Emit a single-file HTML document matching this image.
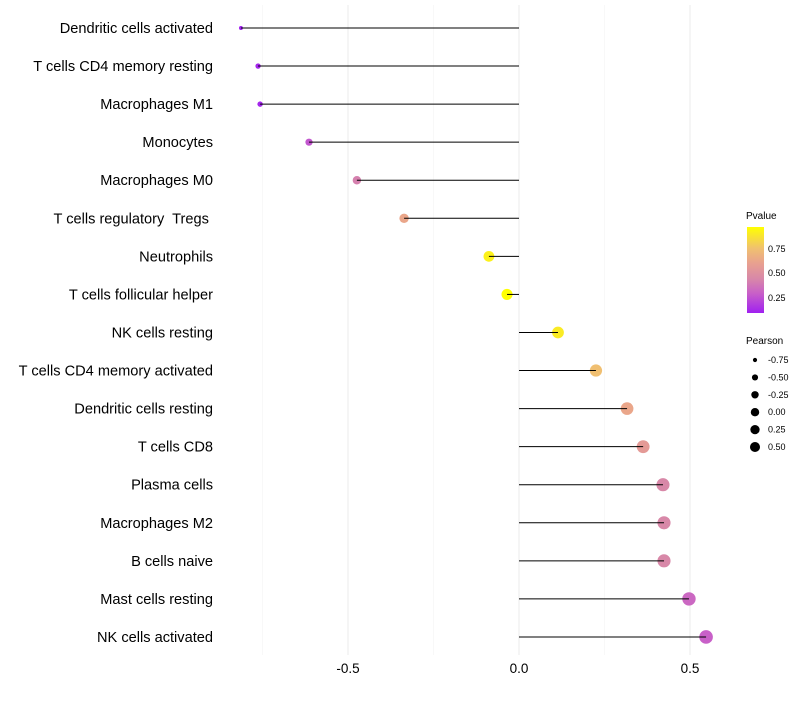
<!DOCTYPE html>
<html><head><meta charset="utf-8"><style>
body{margin:0;background:#fff;font-family:"Liberation Sans",sans-serif}
text{white-space:pre}
</style></head><body>
<svg id="c" width="800" height="700" xmlns="http://www.w3.org/2000/svg">
<defs><linearGradient id="pg" x1="0" y1="1" x2="0" y2="0">
<stop offset="0" stop-color="#a020f0"/><stop offset="0.23" stop-color="#c860c8"/><stop offset="0.4" stop-color="#d888a8"/><stop offset="0.575" stop-color="#e8a090"/><stop offset="0.75" stop-color="#f0c070"/><stop offset="1" stop-color="#ffff00"/></linearGradient></defs>
<g id="grid"></g><g id="marks"></g><g id="stems"></g><g id="labels"></g>
<g font-size="10" fill="#000">
<text x="746" y="219">Pvalue</text>
<rect x="747" y="227" width="17" height="86" fill="url(#pg)"/>
<text x="768" y="252" font-size="9">0.75</text>
<text x="768" y="276" font-size="9">0.50</text>
<text x="768" y="301" font-size="9">0.25</text>
</g>
<g id="sizeleg" font-size="10"><text x="746" y="344">Pearson</text></g>
</svg>
<script>
const categories=["Dendritic cells activated","T cells CD4 memory resting","Macrophages M1","Monocytes","Macrophages M0","T cells regulatory  Tregs ","Neutrophils","T cells follicular helper","NK cells resting","T cells CD4 memory activated","Dendritic cells resting","T cells CD8","Plasma cells","Macrophages M2","B cells naive","Mast cells resting","NK cells activated"];
const pearson=[-0.813,-0.763,-0.757,-0.614,-0.474,-0.336,-0.088,-0.035,0.114,0.225,0.316,0.363,0.421,0.424,0.424,0.497,0.547];
const pvalue=[0.1,0.12,0.12,0.27,0.42,0.63,0.92,0.97,0.9,0.75,0.63,0.56,0.45,0.45,0.45,0.33,0.3];
const xTicks=[-0.5,0,0.5];
const xTickLabels=["-0.5","0.0","0.5"];
const sizeLegend=[-0.75,-0.5,-0.25,0,0.25,0.5];
const sizeLegendLabels=["-0.75","-0.50","-0.25","0.00","0.25","0.50"];
const NS="http://www.w3.org/2000/svg";
const xs=v=>519+v*342;
const ys=i=>28+i*38.06;
const rs=v=>1.6+5.2*Math.sqrt(Math.max(0,(v+0.82)/1.37));
function col(p){const t=Math.max(0,Math.min(1,(p-0.1)/0.87));
const st=[[0,[160,32,240]],[0.23,[200,96,200]],[0.4,[216,136,168]],[0.575,[232,160,144]],[0.75,[240,192,112]],[1,[255,255,0]]];
for(let k=1;k<st.length;k++){if(t<=st[k][0]){const a=st[k-1],b=st[k],f=(t-a[0])/(b[0]-a[0]);return`rgb(${a[1].map((c,j)=>Math.round(c+(b[1][j]-c)*f)).join(',')})`;}}return'rgb(255,255,0)';}
function mk(tag,at,par){const e=document.createElementNS(NS,tag);for(const k in at)e.setAttribute(k,at[k]);par.appendChild(e);return e;}
const grid=document.getElementById('grid'),marks=document.getElementById('marks'),stems=document.getElementById('stems'),labels=document.getElementById('labels');
[-0.75,-0.25,0.25].forEach(v=>{const l=mk('line',{x1:xs(v),x2:xs(v),y1:5,y2:655,stroke:'#f3f3f3','stroke-width':0.6},grid);

});
xTicks.forEach((v,i)=>{const l=mk('line',{x1:xs(v),x2:xs(v),y1:5,y2:655,stroke:'#ebebeb','stroke-width':1},grid);


const t=mk('text',{x:xs(v),y:673,'text-anchor':'middle','font-size':13.5,fill:'#000'},labels);t.textContent=xTickLabels[i];

});
categories.forEach((c,i)=>{const y=ys(i);
const d=mk('circle',{cx:xs(pearson[i]),cy:y,r:rs(pearson[i]),fill:col(pvalue[i])},marks);


const l=mk('line',{x1:xs(0),x2:xs(pearson[i]),y1:y,y2:y,stroke:'#000','stroke-width':1},stems);


const t=mk('text',{x:213,y:y+5,'text-anchor':'end','font-size':14.6,fill:'#000'},labels);t.textContent=c;

});
const sl=document.getElementById('sizeleg');
sizeLegend.forEach((v,i)=>{const y=360+i*17.4;
const d=mk('circle',{cx:755,cy:y,r:rs(v)*0.75,fill:'#000'},sl);


const t=mk('text',{x:768,y:y+3,'font-size':9},sl);t.textContent=sizeLegendLabels[i];

});
</script>
</body></html>
